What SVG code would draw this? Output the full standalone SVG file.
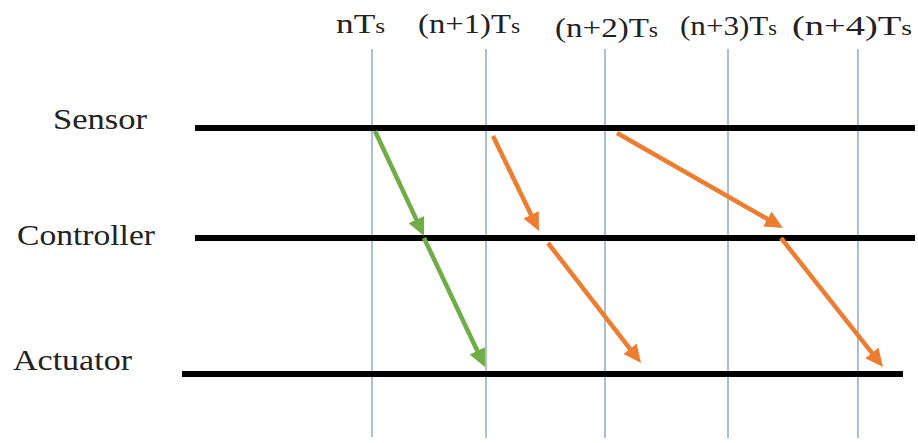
<svg xmlns="http://www.w3.org/2000/svg" width="918" height="443" viewBox="0 0 918 443">
  <style>
    .lbl { font-family: "Liberation Serif", "Times New Roman", serif; font-size: 30px; fill: #222; }
    .tl { font-family: "Liberation Serif", "Times New Roman", serif; font-size: 28px; fill: #222; }
    .sub { font-size: 20px; }
    .lane { stroke: #000; stroke-width: 6; fill: none; }
    .tick { stroke: #8faabc; stroke-width: 1.5; fill: none; }
    .g { stroke: #70ad47; stroke-width: 4.5; fill: none; marker-end: url(#ag); }
    .o { stroke: #ed7d31; stroke-width: 4.5; fill: none; marker-end: url(#ao); }
  </style>
  <defs>
    <marker id="ag" markerUnits="userSpaceOnUse" markerWidth="18" markerHeight="17" viewBox="0 0 18 17" refX="8" refY="8.5" orient="auto">
      <path d="M0,0 L18,8.5 L0,17 z" fill="#70ad47"/>
    </marker>
    <marker id="ao" markerUnits="userSpaceOnUse" markerWidth="18" markerHeight="17" viewBox="0 0 18 17" refX="8" refY="8.5" orient="auto">
      <path d="M0,0 L18,8.5 L0,17 z" fill="#ed7d31"/>
    </marker>
  </defs>
  <rect width="918" height="443" fill="#fff"/>

  <g id="time-axis">
    <line class="tick" x1="372" y1="49" x2="372" y2="437"/>
    <line class="tick" x1="486" y1="49" x2="486" y2="438"/>
    <line class="tick" x1="605" y1="49" x2="605" y2="438"/>
    <line class="tick" x1="728" y1="49" x2="728" y2="438"/>
    <line class="tick" x1="858" y1="49" x2="858" y2="438"/>
    <text class="tl" x="336" y="33" textLength="49" lengthAdjust="spacingAndGlyphs">nT<tspan class="sub">s</tspan></text>
    <text class="tl" x="418" y="33" textLength="102" lengthAdjust="spacingAndGlyphs">(n+1)T<tspan class="sub">s</tspan></text>
    <text class="tl" x="555" y="37" textLength="103" lengthAdjust="spacingAndGlyphs">(n+2)T<tspan class="sub">s</tspan></text>
    <text class="tl" x="680" y="35" textLength="97" lengthAdjust="spacingAndGlyphs">(n+3)T<tspan class="sub">s</tspan></text>
    <text class="tl" x="792" y="35" textLength="120" lengthAdjust="spacingAndGlyphs">(n+4)T<tspan class="sub">s</tspan></text>
  </g>

  <g id="sensor">
    <text class="lbl" x="53" y="129" textLength="94" lengthAdjust="spacingAndGlyphs">Sensor</text>
    <line class="lane" x1="195" y1="128" x2="915" y2="128"/>
  </g>
  <g id="controller">
    <text class="lbl" x="17" y="245" textLength="138" lengthAdjust="spacingAndGlyphs">Controller</text>
    <line class="lane" x1="195" y1="238" x2="915" y2="238"/>
  </g>
  <g id="actuator">
    <text class="lbl" x="13" y="370" textLength="119" lengthAdjust="spacingAndGlyphs">Actuator</text>
    <line class="lane" x1="182" y1="374" x2="903" y2="374"/>
  </g>

  <g id="connectors">
    <line class="g" x1="375" y1="131" x2="419.8" y2="226.9"/>
    <line class="g" x1="424" y1="238" x2="480.7" y2="358"/>
    <line class="o" x1="493" y1="136" x2="534.6" y2="222"/>
    <line class="o" x1="548" y1="243" x2="634.9" y2="355.1"/>
    <line class="o" x1="617" y1="133" x2="774.3" y2="223"/>
    <line class="o" x1="781" y1="238" x2="876.8" y2="359.2"/>
  </g>
</svg>
